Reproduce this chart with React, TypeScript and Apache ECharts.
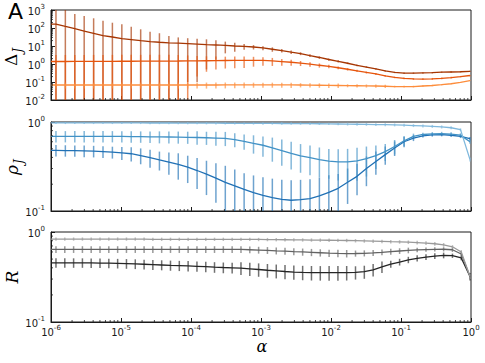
import React, { useEffect, useRef } from "react";
import * as echarts from "echarts";

// log10(alpha) of the sampled points (top two panels / bottom panel)
const LOG_ALPHA_DR = [
  -5.929, -5.795, -5.66, -5.526, -5.391, -5.257, -5.123, -4.988, -4.854, -4.719,
  -4.585, -4.451, -4.316, -4.182, -4.047, -3.913, -3.779, -3.644, -3.51, -3.375,
  -3.241, -3.107, -2.972, -2.838, -2.703, -2.569, -2.435, -2.3, -2.166, -2.031,
  -1.897, -1.763, -1.628, -1.494, -1.359, -1.225, -1.091, -0.956, -0.822, -0.687,
  -0.553, -0.419, -0.284, -0.15, -0.015,
];
const LOG_ALPHA_R = [
  -5.929, -5.803, -5.677, -5.551, -5.426, -5.3, -5.174, -5.048, -4.922, -4.796,
  -4.67, -4.545, -4.419, -4.293, -4.167, -4.041, -3.915, -3.789, -3.664, -3.538,
  -3.412, -3.286, -3.16, -3.034, -2.908, -2.782, -2.657, -2.531, -2.405, -2.279,
  -2.153, -2.027, -1.901, -1.776, -1.65, -1.524, -1.398, -1.272, -1.146, -1.02,
  -0.895, -0.769, -0.643, -0.517, -0.391, -0.265, -0.139, -0.014,
];

// Delta_J
const DELTA_1 = [
  166, 122, 91, 68, 51, 38, 31.6, 26, 22.7, 19.7, 17.5, 16.2, 15.1, 14.5, 13.6, 12.8, 12, 11.4, 10.7, 10,
  9.6, 8.8, 7.8, 6.6, 5.6, 4.6, 3.8, 2.95, 2.3, 1.78, 1.41, 1.1, 0.85, 0.68, 0.53, 0.41, 0.34, 0.31, 0.31, 0.32,
  0.33, 0.35, 0.36, 0.37, 0.39,
];
const DELTA_1_ERR = [
  1200, 900, 510, 396, 295, 217, 165, 135, 95, 65, 45, 35, 21, 15.5, 13.5, 12.7, 11.5, 9.7, 6.8, 5.2,
  3.5, 2.4, 2.0, 1.8, 1.3, 1.0, 0.7, 0.5, 0.35, 0.25, 0.18, 0.12, 0.09, 0.07, 0.05, 0.04, 0.03, 0.03, 0.03, 0.03,
  0.03, 0.03, 0.03, 0.03, 0.03,
];
const DELTA_2 = [
  1.38, 1.38, 1.39, 1.39, 1.4, 1.4, 1.41, 1.42, 1.42, 1.43, 1.44, 1.45, 1.46, 1.47, 1.49, 1.5, 1.52, 1.54, 1.56, 1.58,
  1.6, 1.61, 1.6, 1.48, 1.36, 1.25, 1.12, 0.98, 0.85, 0.74, 0.62, 0.51, 0.42, 0.34, 0.28, 0.22, 0.18, 0.16, 0.148, 0.146,
  0.15, 0.16, 0.175, 0.2, 0.23,
];
const DELTA_2_ERR = [
  1.8, 1.8, 1.8, 1.8, 1.8, 1.8, 1.8, 1.8, 1.8, 1.8, 1.8, 1.8, 1.8, 1.7, 1.5, 1.3, 1.15, 1.05, 1.0, 1.0,
  1.0, 0.9, 0.8, 0.7, 0.55, 0.45, 0.35, 0.28, 0.22, 0.16, 0.11, 0.08, 0.06, 0.045, 0.035, 0.025, 0.018, 0.018, 0.018, 0.018,
  0.018, 0.018, 0.018, 0.018, 0.018,
];
const DELTA_3 = [
  0.068, 0.068, 0.068, 0.068, 0.068, 0.068, 0.068, 0.068, 0.068, 0.068, 0.068, 0.068, 0.068, 0.068, 0.068, 0.068, 0.068, 0.068, 0.069, 0.07,
  0.07, 0.07, 0.07, 0.07, 0.07, 0.069, 0.068, 0.067, 0.066, 0.065, 0.064, 0.063, 0.062, 0.061, 0.06, 0.058, 0.056, 0.055, 0.056, 0.06,
  0.064, 0.071, 0.08, 0.095, 0.12,
];
const DELTA_3_ERR = [
  0.025, 0.025, 0.025, 0.025, 0.025, 0.025, 0.025, 0.025, 0.025, 0.025, 0.025, 0.025, 0.025, 0.025, 0.025, 0.025, 0.025, 0.025, 0.025, 0.025,
  0.025, 0.022, 0.022, 0.022, 0.022, 0.022, 0.018, 0.018, 0.018, 0.018, 0.018, 0.012, 0.012, 0.012, 0.012, 0.012, 0.006, 0.006, 0.006, 0.006,
  0.006, 0.006, 0.006, 0.006, 0.006,
];

// rho_J
const RHO_1 = [
  0.978, 0.978, 0.978, 0.978, 0.978, 0.978, 0.978, 0.978, 0.978, 0.978, 0.975, 0.975, 0.974, 0.973, 0.972, 0.971, 0.97, 0.969, 0.968, 0.967,
  0.966, 0.965, 0.964, 0.963, 0.962, 0.961, 0.96, 0.958, 0.956, 0.953, 0.95, 0.947, 0.944, 0.94, 0.936, 0.932, 0.927, 0.92, 0.912, 0.903,
  0.893, 0.88, 0.862, 0.82, 0.38,
];
const RHO_1_ERR = [
  0.03, 0.03, 0.03, 0.03, 0.03, 0.03, 0.03, 0.03, 0.03, 0.03, 0.03, 0.03, 0.03, 0.03, 0.03, 0.03, 0.03, 0.03, 0.03, 0.03,
  0.03, 0.03, 0.03, 0.03, 0.03, 0.03, 0.03, 0.03, 0.03, 0.03, 0.03, 0.035, 0.035, 0.035, 0.035, 0.035, 0.035, 0.035, 0.035, 0.035,
  0.035, 0.035, 0.035, 0.03, 0.02,
];
const RHO_2 = [
  0.69, 0.69, 0.69, 0.69, 0.69, 0.69, 0.69, 0.688, 0.686, 0.684, 0.682, 0.68, 0.678, 0.676, 0.673, 0.67, 0.665, 0.66, 0.655, 0.635,
  0.605, 0.575, 0.548, 0.513, 0.478, 0.445, 0.417, 0.398, 0.378, 0.364, 0.357, 0.356, 0.366, 0.387, 0.42, 0.465, 0.53, 0.615, 0.69, 0.724,
  0.735, 0.74, 0.73, 0.712, 0.6,
];
const RHO_2_ERR = [
  0.1, 0.1, 0.1, 0.1, 0.1, 0.1, 0.1, 0.1, 0.1, 0.1, 0.1, 0.105, 0.105, 0.105, 0.105, 0.115, 0.112, 0.118, 0.119, 0.114,
  0.118, 0.134, 0.14, 0.155, 0.156, 0.153, 0.148, 0.146, 0.139, 0.133, 0.137, 0.143, 0.147, 0.143, 0.123, 0.1, 0.098, 0.08, 0.05, 0.035,
  0.035, 0.035, 0.035, 0.035, 0.03,
];
const RHO_3 = [
  0.48, 0.478, 0.476, 0.473, 0.47, 0.465, 0.458, 0.449, 0.44, 0.42, 0.397, 0.375, 0.355, 0.335, 0.312, 0.285, 0.259, 0.234, 0.21, 0.192,
  0.175, 0.161, 0.15, 0.141, 0.135, 0.132, 0.134, 0.138, 0.148, 0.162, 0.18, 0.21, 0.245, 0.3, 0.36, 0.43, 0.51, 0.6, 0.66, 0.7,
  0.715, 0.72, 0.71, 0.69, 0.65,
];
const RHO_3_ERR = [
  0.07, 0.07, 0.07, 0.07, 0.07, 0.07, 0.07, 0.076, 0.08, 0.085, 0.09, 0.09, 0.1, 0.11, 0.106, 0.108, 0.108, 0.11, 0.112, 0.1,
  0.09, 0.09, 0.09, 0.09, 0.09, 0.09, 0.09, 0.09, 0.09, 0.09, 0.08, 0.09, 0.095, 0.11, 0.105, 0.1, 0.095, 0.08, 0.05, 0.03,
  0.03, 0.03, 0.03, 0.03, 0.03,
];

// R
const R_1 = [
  0.835, 0.835, 0.835, 0.835, 0.835, 0.835, 0.835, 0.835, 0.835, 0.835, 0.835, 0.83, 0.83, 0.83, 0.83, 0.83, 0.83, 0.83, 0.83, 0.83,
  0.83, 0.83, 0.828, 0.826, 0.824, 0.822, 0.82, 0.818, 0.816, 0.814, 0.812, 0.81, 0.808, 0.805, 0.8, 0.795, 0.79, 0.785, 0.78, 0.776,
  0.77, 0.762, 0.752, 0.74, 0.72, 0.685, 0.6, 0.32,
];
const R_1_ERR = [
  0.035, 0.035, 0.035, 0.035, 0.035, 0.035, 0.035, 0.035, 0.035, 0.035, 0.035, 0.035, 0.035, 0.035, 0.035, 0.035, 0.035, 0.035, 0.035, 0.035,
  0.035, 0.035, 0.035, 0.035, 0.035, 0.035, 0.035, 0.035, 0.035, 0.035, 0.035, 0.035, 0.035, 0.035, 0.035, 0.035, 0.035, 0.035, 0.035, 0.035,
  0.035, 0.035, 0.035, 0.035, 0.035, 0.03, 0.03, 0.02,
];
const R_2 = [
  0.64, 0.64, 0.64, 0.64, 0.64, 0.64, 0.64, 0.64, 0.64, 0.64, 0.64, 0.64, 0.64, 0.64, 0.64, 0.64, 0.64, 0.64, 0.64, 0.64,
  0.64, 0.64, 0.635, 0.63, 0.625, 0.618, 0.612, 0.605, 0.6, 0.594, 0.588, 0.582, 0.578, 0.576, 0.577, 0.58, 0.587, 0.595, 0.605, 0.615,
  0.625, 0.632, 0.638, 0.642, 0.643, 0.635, 0.57, 0.32,
];
const R_2_ERR = [
  0.055, 0.055, 0.055, 0.055, 0.055, 0.055, 0.055, 0.055, 0.055, 0.055, 0.055, 0.055, 0.055, 0.055, 0.055, 0.055, 0.055, 0.055, 0.055, 0.055,
  0.055, 0.055, 0.055, 0.055, 0.055, 0.055, 0.055, 0.055, 0.055, 0.055, 0.055, 0.055, 0.055, 0.055, 0.045, 0.045, 0.045, 0.045, 0.045, 0.045,
  0.045, 0.035, 0.035, 0.035, 0.035, 0.035, 0.035, 0.02,
];
const R_3 = [
  0.455, 0.455, 0.455, 0.455, 0.454, 0.452, 0.45, 0.448, 0.445, 0.442, 0.438, 0.434, 0.43, 0.426, 0.423, 0.42, 0.416, 0.412, 0.407, 0.403,
  0.4, 0.397, 0.39, 0.383, 0.376, 0.37, 0.364, 0.359, 0.356, 0.354, 0.353, 0.353, 0.353, 0.354, 0.356, 0.362, 0.38, 0.41, 0.44, 0.464,
  0.49, 0.51, 0.527, 0.54, 0.55, 0.545, 0.515, 0.32,
];
const R_3_ERR = [
  0.055, 0.055, 0.055, 0.055, 0.055, 0.055, 0.055, 0.055, 0.055, 0.055, 0.055, 0.055, 0.055, 0.055, 0.055, 0.055, 0.055, 0.055, 0.055, 0.055,
  0.055, 0.065, 0.065, 0.065, 0.065, 0.065, 0.065, 0.065, 0.065, 0.065, 0.065, 0.065, 0.065, 0.065, 0.06, 0.06, 0.06, 0.06, 0.04, 0.04,
  0.04, 0.04, 0.04, 0.04, 0.04, 0.03, 0.03, 0.03,
];

// axis decades (major ticks) and minor-tick multipliers
const X_DECADES = [-6, -5, -4, -3, -2, -1, 0];
const Y_DECADES_DELTA = [-2, -1, 0, 1, 2, 3];
const Y_DECADES_UNIT = [-1, 0];
const MINOR_MULT = [2, 3, 4, 5, 6, 7, 8, 9];

const ORANGES = ["#a63603", "#e6550d", "#fd8d3c"];
const BLUES = ["#2171b5", "#4292c6", "#7fb8dd"];
const GRAYS = ["#252525", "#636363", "#9a9a9a"];

const FONT = "DejaVu Sans";
const MATH = "DejaVu Serif";
const AXIS_COLOR = "#1a1a1a";

const tickRich = {
  b: { fontSize: 10, fontFamily: FONT, color: AXIS_COLOR, lineHeight: 13, verticalAlign: "bottom" },
  s: { fontSize: 7, fontFamily: FONT, color: AXIS_COLOR, lineHeight: 6, verticalAlign: "top" },
};
const tickFmt = (v: number) => `{b|10}{s|${Math.round(Math.log10(v))}}`;

function minorTicks(decadesX: number[], decadesY: number[], xMin: number, yMin: number) {
  const out: number[][] = [];
  decadesX.slice(0, -1).forEach((e) => MINOR_MULT.forEach((m) => out.push([m * Math.pow(10, e), yMin, 0])));
  decadesY.slice(0, -1).forEach((e) => MINOR_MULT.forEach((m) => out.push([xMin, m * Math.pow(10, e), 1])));
  return out;
}

function buildOption() {
  const panels = [
    {
      top: 10, height: 90, yMin: 0.01, yMax: 1000, xs: LOG_ALPHA_DR, yDec: Y_DECADES_DELTA,
      lines: [
        { v: DELTA_1, e: DELTA_1_ERR, c: ORANGES[0] },
        { v: DELTA_2, e: DELTA_2_ERR, c: ORANGES[1] },
        { v: DELTA_3, e: DELTA_3_ERR, c: ORANGES[2] },
      ],
    },
    {
      top: 122, height: 89, yMin: 0.1, yMax: 1, xs: LOG_ALPHA_DR, yDec: Y_DECADES_UNIT,
      lines: [
        { v: RHO_3, e: RHO_3_ERR, c: BLUES[0] },
        { v: RHO_2, e: RHO_2_ERR, c: BLUES[1] },
        { v: RHO_1, e: RHO_1_ERR, c: BLUES[2] },
      ],
    },
    {
      top: 232, height: 90, yMin: 0.1, yMax: 1, xs: LOG_ALPHA_R, yDec: Y_DECADES_UNIT,
      lines: [
        { v: R_3, e: R_3_ERR, c: GRAYS[0] },
        { v: R_2, e: R_2_ERR, c: GRAYS[1] },
        { v: R_1, e: R_1_ERR, c: GRAYS[2] },
      ],
    },
  ];
  const xMin = Math.pow(10, X_DECADES[0]);
  const xMax = Math.pow(10, X_DECADES[X_DECADES.length - 1]);

  const grid: any[] = [];
  const xAxis: any[] = [];
  const yAxis: any[] = [];
  const series: any[] = [];

  panels.forEach((p, i) => {
    grid.push({
      left: 51, right: 14, top: p.top, height: p.height,
      show: true, borderColor: AXIS_COLOR, borderWidth: 1, backgroundColor: "transparent",
    });
    xAxis.push({
      type: "log", logBase: 10, gridIndex: i, min: xMin, max: xMax,
      axisLine: { show: true, lineStyle: { color: AXIS_COLOR, width: 1 } },
      axisTick: { show: true, inside: true, length: 4, lineStyle: { color: AXIS_COLOR } },
      axisLabel: { show: i === 2, formatter: tickFmt, rich: tickRich, margin: 2 },
      splitLine: { show: false },
      minorTick: { show: false },
    });
    yAxis.push({
      type: "log", logBase: 10, gridIndex: i, min: p.yMin, max: p.yMax,
      axisLine: { show: true, lineStyle: { color: AXIS_COLOR, width: 1 } },
      axisTick: { show: true, inside: true, length: 4, lineStyle: { color: AXIS_COLOR } },
      axisLabel: { show: true, formatter: tickFmt, rich: tickRich, margin: 6 },
      splitLine: { show: false },
    });

    const yMin = p.yMin, yMax = p.yMax;
    p.lines.forEach((ln) => {
      const color = ln.c;
      series.push({
        type: "custom",
        xAxisIndex: i, yAxisIndex: i, silent: true, z: 2,
        encode: { x: 0, y: 1 },
        data: p.xs.map((ex, k) => [Math.pow(10, ex), ln.v[k], ln.e[k]]),
        renderItem: (_params: any, api: any) => {
          const x = api.value(0), y = api.value(1), e = api.value(2);
          const lo = Math.max(y - e, yMin);
          const hi = Math.min(y + e, yMax);
          const p1 = api.coord([x, hi]);
          const p2 = api.coord([x, lo]);
          return {
            type: "line",
            shape: { x1: p1[0], y1: p1[1], x2: p2[0], y2: p2[1] },
            style: { stroke: color, lineWidth: 1.5, opacity: 0.65 },
          };
        },
      });
    });
    p.lines.forEach((ln) => {
      series.push({
        type: "line",
        xAxisIndex: i, yAxisIndex: i, z: 3, silent: true,
        showSymbol: false, symbol: "none",
        lineStyle: { color: ln.c, width: 1.3 },
        data: [[xMin, ln.v[0]], ...p.xs.map((ex, k) => [Math.pow(10, ex), ln.v[k]])],
      });
    });
    series.push({
      type: "custom",
      xAxisIndex: i, yAxisIndex: i, silent: true, z: 4,
      encode: { x: 0, y: 1 },
      data: minorTicks(X_DECADES, p.yDec, xMin, yMin),
      renderItem: (_params: any, api: any) => {
        const pt = api.coord([api.value(0), api.value(1)]);
        const kind = api.value(2);
        const shape = kind === 0
          ? { x1: pt[0], y1: pt[1], x2: pt[0], y2: pt[1] - 2 }
          : { x1: pt[0], y1: pt[1], x2: pt[0] + 2, y2: pt[1] };
        return { type: "line", shape, style: { stroke: AXIS_COLOR, lineWidth: 0.8 } };
      },
    });
  });

  const nameRich = {
    m: { fontSize: 17, fontFamily: MATH, fontStyle: "italic", color: "#000", lineHeight: 18, verticalAlign: "top" },
    u: { fontSize: 17, fontFamily: MATH, color: "#000", lineHeight: 18, verticalAlign: "top" },
    j: { fontSize: 12, fontFamily: MATH, fontStyle: "italic", color: "#000", lineHeight: 12, padding: [10, 0, 0, 1], verticalAlign: "top" },
  };

  const graphic = [
    { type: "text", x: 8, y: 11, style: { text: "A", fontSize: 22, fontFamily: FONT, fill: "#000", align: "left", verticalAlign: "middle" } },
    { type: "text", x: 11, y: 57, rotation: Math.PI / 2, style: { text: "{u|Δ}{j|J}", rich: nameRich, align: "center", verticalAlign: "middle" } },
    { type: "text", x: 12, y: 167, rotation: Math.PI / 2, style: { text: "{m|ρ}{j|J}", rich: nameRich, align: "center", verticalAlign: "middle" } },
    { type: "text", x: 12, y: 277, rotation: Math.PI / 2, style: { text: "R", fontSize: 17, fontFamily: MATH, fontStyle: "italic", fill: "#000", align: "center", verticalAlign: "middle" } },
    { type: "text", x: 262, y: 346, style: { text: "α", fontSize: 16, lineHeight: 12, fontFamily: MATH, fontStyle: "italic", fill: "#000", align: "center", verticalAlign: "middle" } },
  ];

  return { animation: false, backgroundColor: "#fff", grid, xAxis, yAxis, series, graphic };
}

export default function App() {
  const ref = useRef<HTMLDivElement>(null);
  useEffect(() => {
    document.body.style.margin = "0";
    const chart = echarts.init(ref.current!, null, { renderer: "svg" });
    chart.setOption(buildOption() as any);
    return () => chart.dispose();
  }, []);
  return <div ref={ref} style={{ width: 485, height: 363 }} />;
}
